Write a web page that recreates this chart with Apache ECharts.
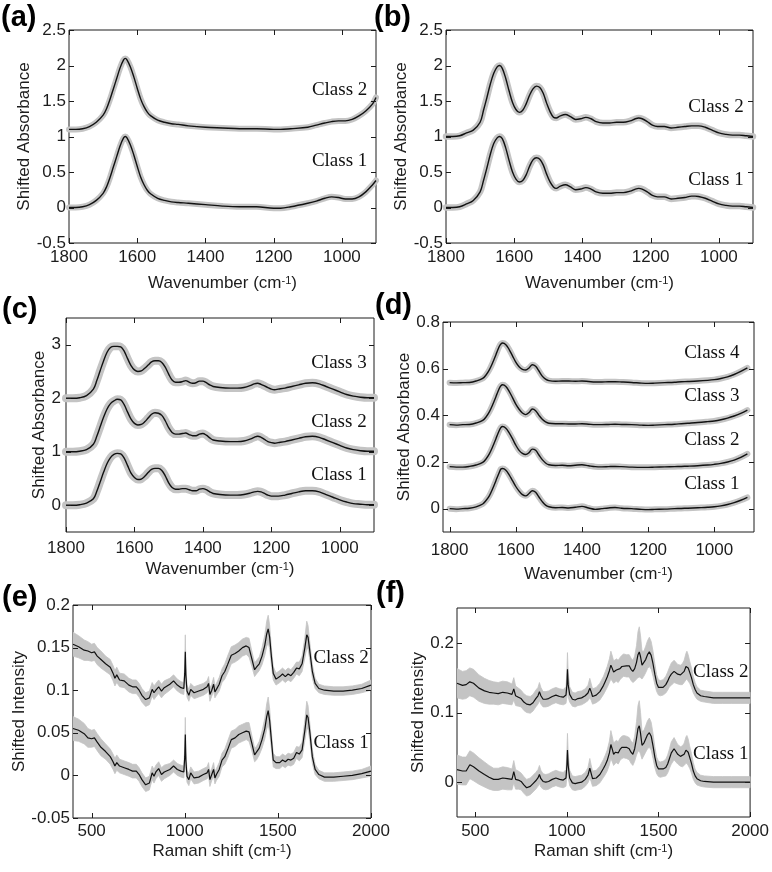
<!DOCTYPE html>
<html><head><meta charset="utf-8">
<script src="https://cdn.jsdelivr.net/npm/echarts@6/dist/echarts.min.js"></script>
<style>html,body{margin:0;padding:0;background:#fff}#c{width:772px;height:872px}</style>
</head><body><div id="c"></div>
<script>
// ---------------- DATA ----------------
const WN_TICKS = [1000, 1200, 1400, 1600, 1800];
const RAMAN_TICKS = [500, 1000, 1500, 2000];
const A_YTICKS = [-0.5, 0, 0.5, 1, 1.5, 2, 2.5];
const B_YTICKS = [-0.5, 0, 0.5, 1, 1.5, 2, 2.5];
const C_YTICKS = [0, 1, 2, 3];
const D_YTICKS = [0, 0.2, 0.4, 0.6, 0.8];
const E_YTICKS = [-0.05, 0, 0.05, 0.1, 0.15, 0.2];
const F_YTICKS = [0, 0.1, 0.2];

// (a)
const A_X = [1800,1780,1760,1740,1720,1700,1690,1680,1670,1660,
  1650,1640,1635,1630,1620,1610,1600,1590,1580,1570,
  1560,1540,1520,1500,1480,1450,1400,1350,1300,1250,
  1200,1180,1150,1100,1075,1050,1030,1010,990,970,
  950,930,910,900];
const A_CLASS1 = [0.00,0.00,0.01,0.04,0.10,0.20,0.29,0.42,0.57,0.72,
  0.87,0.98,1.00,0.98,0.88,0.74,0.58,0.43,0.32,0.24,
  0.19,0.13,0.10,0.08,0.07,0.06,0.04,0.02,0.01,0.01,
  -0.01,-0.01,0.01,0.06,0.09,0.13,0.15,0.14,0.12,0.12,
  0.15,0.22,0.32,0.38];
const A_CLASS2 = [1.10,1.10,1.11,1.14,1.20,1.30,1.39,1.52,1.67,1.82,
  1.97,2.08,2.10,2.08,1.98,1.84,1.68,1.53,1.42,1.34,
  1.29,1.23,1.20,1.18,1.17,1.15,1.13,1.12,1.11,1.11,
  1.10,1.10,1.11,1.13,1.16,1.19,1.21,1.22,1.22,1.24,
  1.29,1.36,1.46,1.55];

// (b)
const B_X = [1800,1780,1760,1740,1720,1700,1690,1680,1670,1660,
  1650,1643,1635,1625,1615,1605,1595,1585,1575,1565,
  1555,1545,1535,1525,1515,1505,1495,1485,1477,1465,
  1450,1435,1420,1405,1390,1375,1360,1340,1320,1300,
  1280,1260,1245,1235,1225,1210,1195,1180,1160,1140,
  1120,1100,1080,1070,1060,1040,1020,1000,980,960,
  940,920,900];
const B_CLASS1 = [0.00,0.00,0.01,0.05,0.10,0.22,0.38,0.56,0.75,0.90,
  0.98,1.00,0.97,0.84,0.66,0.50,0.40,0.36,0.38,0.46,
  0.58,0.67,0.70,0.68,0.60,0.47,0.36,0.29,0.27,0.30,
  0.32,0.29,0.25,0.26,0.28,0.26,0.22,0.20,0.20,0.21,
  0.21,0.23,0.26,0.27,0.26,0.22,0.17,0.15,0.15,0.12,
  0.13,0.14,0.16,0.16,0.155,0.13,0.09,0.05,0.03,0.02,
  0.02,0.01,0.00];
const B_CLASS2 = [1.00,1.00,1.01,1.05,1.09,1.20,1.37,1.55,1.74,1.89,
  1.98,2.00,1.96,1.82,1.64,1.48,1.38,1.34,1.37,1.46,
  1.58,1.67,1.71,1.69,1.61,1.47,1.35,1.27,1.26,1.29,
  1.31,1.28,1.24,1.25,1.27,1.25,1.21,1.19,1.19,1.20,
  1.20,1.22,1.25,1.26,1.25,1.21,1.16,1.14,1.14,1.12,
  1.13,1.14,1.15,1.15,1.15,1.13,1.09,1.05,1.03,1.02,
  1.02,1.01,1.00];

// (c)
const C_X = [1800,1780,1760,1740,1720,1710,1700,1690,1680,1670,
  1660,1650,1640,1630,1620,1610,1600,1590,1580,1570,
  1560,1550,1540,1530,1520,1510,1500,1490,1480,1470,
  1460,1450,1440,1430,1420,1410,1400,1390,1380,1370,
  1350,1320,1300,1280,1260,1250,1240,1230,1220,1210,
  1200,1190,1180,1160,1140,1120,1100,1080,1060,1040,
  1020,1000,980,960,940,920,900];
const C_CLASS3 = [2.00,2.00,2.01,2.05,2.17,2.33,2.52,2.70,2.86,2.95,
  2.97,2.97,2.96,2.88,2.74,2.61,2.53,2.50,2.51,2.56,
  2.62,2.68,2.70,2.70,2.67,2.58,2.45,2.34,2.30,2.30,
  2.31,2.33,2.30,2.28,2.29,2.32,2.32,2.29,2.25,2.22,
  2.20,2.19,2.19,2.20,2.24,2.27,2.28,2.26,2.23,2.20,
  2.17,2.16,2.17,2.19,2.22,2.25,2.28,2.29,2.27,2.22,
  2.17,2.12,2.07,2.04,2.02,2.01,2.01];
const C_CLASS2 = [1.00,1.00,1.01,1.04,1.14,1.29,1.47,1.65,1.80,1.90,
  1.95,1.98,1.97,1.88,1.74,1.61,1.53,1.50,1.51,1.56,
  1.63,1.70,1.73,1.72,1.68,1.58,1.45,1.36,1.33,1.33,
  1.34,1.35,1.32,1.30,1.30,1.33,1.34,1.31,1.26,1.22,
  1.20,1.19,1.19,1.20,1.24,1.27,1.29,1.27,1.23,1.19,
  1.17,1.16,1.17,1.19,1.22,1.25,1.28,1.29,1.27,1.22,
  1.17,1.12,1.07,1.04,1.02,1.01,1.01];
const C_CLASS1 = [0.00,0.00,0.01,0.04,0.12,0.26,0.44,0.62,0.78,0.89,
  0.95,0.97,0.96,0.88,0.74,0.60,0.52,0.48,0.49,0.54,
  0.61,0.67,0.69,0.69,0.65,0.55,0.42,0.33,0.30,0.30,
  0.31,0.31,0.29,0.27,0.27,0.30,0.31,0.29,0.25,0.22,
  0.20,0.19,0.19,0.20,0.23,0.25,0.26,0.25,0.22,0.19,
  0.17,0.17,0.17,0.19,0.22,0.25,0.27,0.27,0.25,0.20,
  0.15,0.10,0.06,0.03,0.02,0.01,0.01];

// (d)
const D_X = [1800,1780,1760,1740,1720,1700,1690,1680,1670,1660,
  1650,1645,1640,1630,1620,1610,1600,1590,1580,1570,
  1560,1550,1540,1530,1520,1510,1500,1480,1460,1440,
  1420,1400,1380,1360,1340,1320,1300,1280,1250,1220,
  1200,1180,1150,1120,1100,1080,1050,1020,1000,980,
  960,940,920,900];
const D_CLASS1 = [0.000,-0.002,0.000,0.002,0.008,0.020,0.035,0.055,0.085,0.120,
  0.155,0.170,0.172,0.165,0.145,0.120,0.095,0.075,0.060,0.055,
  0.065,0.077,0.070,0.050,0.030,0.015,0.008,0.004,0.005,0.003,
  0.006,0.010,0.003,-0.003,0.000,0.003,0.005,0.002,0.000,-0.003,
  -0.004,-0.003,-0.002,0.000,0.001,0.002,0.004,0.006,0.008,0.012,
  0.018,0.026,0.036,0.048];
const D_CLASS2 = [0.180,0.178,0.178,0.181,0.187,0.198,0.213,0.235,0.265,0.300,
  0.335,0.348,0.352,0.345,0.325,0.300,0.272,0.250,0.237,0.232,
  0.240,0.255,0.250,0.230,0.210,0.196,0.188,0.185,0.186,0.184,
  0.186,0.188,0.184,0.180,0.179,0.180,0.181,0.180,0.178,0.177,
  0.177,0.178,0.179,0.180,0.181,0.182,0.184,0.187,0.190,0.194,
  0.200,0.208,0.220,0.235];
const D_CLASS3 = [0.360,0.358,0.360,0.361,0.367,0.378,0.393,0.415,0.445,0.480,
  0.515,0.527,0.531,0.524,0.503,0.476,0.448,0.426,0.410,0.403,
  0.412,0.427,0.420,0.400,0.383,0.372,0.366,0.364,0.364,0.363,
  0.363,0.364,0.362,0.360,0.360,0.361,0.362,0.361,0.360,0.358,
  0.357,0.358,0.360,0.362,0.364,0.366,0.369,0.373,0.376,0.381,
  0.388,0.397,0.408,0.422];
const D_CLASS4 = [0.540,0.539,0.540,0.541,0.547,0.558,0.573,0.595,0.625,0.660,
  0.695,0.706,0.710,0.703,0.682,0.655,0.628,0.608,0.597,0.594,
  0.603,0.617,0.610,0.590,0.568,0.555,0.549,0.546,0.547,0.547,
  0.546,0.547,0.545,0.543,0.543,0.544,0.544,0.543,0.541,0.538,
  0.537,0.538,0.540,0.542,0.544,0.545,0.547,0.550,0.553,0.558,
  0.565,0.575,0.588,0.603];

// (e)
const E_X = [400,430,460,480,500,515,530,550,575,600,
  615,625,635,650,675,700,720,740,755,770,
  790,810,825,835,845,860,875,890,920,940,
  960,980,995,1000,1003,1006,1012,1022,1032,1050,
  1075,1100,1120,1128,1135,1145,1155,1162,1170,1185,
  1200,1215,1230,1250,1270,1290,1310,1330,1345,1360,
  1375,1385,1400,1415,1430,1440,1448,1456,1465,1475,
  1490,1510,1525,1540,1555,1570,1585,1600,1615,1630,
  1645,1655,1662,1672,1685,1700,1720,1750,1800,1850,
  1900,1950,2000];
const E_CLASS2 = [0.154,0.151,0.147,0.146,0.144,0.145,0.140,0.136,0.131,0.127,
  0.120,0.114,0.118,0.112,0.111,0.106,0.104,0.104,0.100,0.094,
  0.089,0.091,0.101,0.097,0.100,0.104,0.099,0.103,0.107,0.111,
  0.106,0.103,0.102,0.120,0.145,0.118,0.099,0.094,0.101,0.097,
  0.099,0.101,0.104,0.108,0.095,0.100,0.107,0.098,0.101,0.107,
  0.117,0.122,0.130,0.141,0.143,0.146,0.150,0.152,0.150,0.137,
  0.124,0.127,0.131,0.140,0.153,0.166,0.172,0.162,0.140,0.120,
  0.113,0.116,0.119,0.116,0.119,0.117,0.121,0.126,0.125,0.131,
  0.150,0.165,0.162,0.145,0.122,0.108,0.102,0.100,0.099,0.099,
  0.100,0.102,0.106];
const E_CLASS1 = [0.055,0.053,0.049,0.044,0.043,0.044,0.039,0.033,0.028,0.022,
  0.016,0.011,0.015,0.011,0.009,0.007,0.005,0.005,0.001,-0.005,
  -0.011,-0.009,0.003,-0.001,0.004,0.008,0.001,0.004,0.007,0.011,
  0.007,0.005,0.004,0.022,0.048,0.018,-0.001,-0.005,0.003,-0.003,
  -0.002,0.001,0.003,0.007,-0.005,0.001,0.007,-0.003,0.001,0.007,
  0.018,0.022,0.030,0.042,0.044,0.048,0.050,0.052,0.051,0.038,
  0.024,0.026,0.032,0.042,0.055,0.069,0.076,0.064,0.042,0.018,
  0.015,0.015,0.018,0.016,0.019,0.018,0.020,0.027,0.025,0.030,
  0.053,0.071,0.068,0.050,0.022,0.007,0.001,-0.002,-0.002,-0.001,
  0.000,0.002,0.005];
const E_SPREAD = [0.014,0.013,0.012,0.011,0.010,0.010,0.010,0.010,0.009,0.009,
  0.009,0.009,0.009,0.008,0.008,0.008,0.008,0.008,0.008,0.008,
  0.008,0.008,0.008,0.008,0.008,0.008,0.008,0.008,0.007,0.007,
  0.007,0.007,0.007,0.012,0.020,0.012,0.007,0.007,0.007,0.007,
  0.007,0.007,0.007,0.008,0.008,0.007,0.008,0.007,0.007,0.008,
  0.008,0.009,0.010,0.010,0.010,0.010,0.010,0.010,0.011,0.009,
  0.008,0.008,0.008,0.010,0.012,0.015,0.016,0.014,0.010,0.008,
  0.007,0.007,0.007,0.007,0.007,0.007,0.007,0.007,0.008,0.009,
  0.012,0.016,0.014,0.010,0.008,0.006,0.005,0.005,0.005,0.005,
  0.005,0.005,0.006];

// (f)
const F_X = [400,430,450,470,490,520,550,575,600,625,
  650,675,700,710,720,735,750,765,780,800,
  815,830,842,850,858,870,885,900,920,940,
  960,980,995,1000,1003,1007,1015,1030,1045,1060,
  1080,1100,1115,1125,1132,1140,1160,1180,1200,1210,
  1220,1232,1240,1248,1255,1265,1270,1280,1290,1300,
  1310,1325,1340,1350,1360,1370,1380,1388,1395,1402,
  1410,1420,1430,1440,1450,1460,1470,1480,1490,1500,
  1510,1525,1540,1550,1560,1570,1585,1595,1605,1620,
  1630,1640,1650,1655,1662,1670,1680,1690,1700,1710,
  1730,1750,1800,1850,1900,1950,2000];
const F_CLASS2 = [0.142,0.139,0.140,0.144,0.142,0.135,0.131,0.129,0.128,0.127,
  0.129,0.128,0.126,0.134,0.124,0.122,0.120,0.115,0.112,0.111,
  0.114,0.120,0.124,0.130,0.124,0.119,0.119,0.120,0.123,0.125,
  0.123,0.122,0.125,0.140,0.162,0.140,0.126,0.119,0.118,0.120,
  0.121,0.124,0.128,0.135,0.130,0.123,0.125,0.130,0.139,0.145,
  0.151,0.160,0.168,0.163,0.158,0.160,0.161,0.159,0.163,0.166,
  0.168,0.167,0.167,0.162,0.159,0.163,0.172,0.183,0.187,0.180,
  0.168,0.170,0.176,0.183,0.187,0.182,0.170,0.155,0.142,0.136,
  0.135,0.136,0.140,0.145,0.151,0.155,0.159,0.157,0.155,0.154,
  0.155,0.159,0.166,0.168,0.164,0.158,0.150,0.140,0.133,0.128,
  0.124,0.123,0.121,0.121,0.121,0.121,0.121];
const F_CLASS1 = [0.018,0.016,0.016,0.025,0.022,0.016,0.011,0.007,0.004,0.004,
  0.006,0.005,0.004,0.015,0.004,0.003,0.001,-0.004,-0.008,-0.006,
  -0.002,0.002,0.006,0.011,0.005,0.001,0.000,0.001,0.004,0.006,
  0.004,0.003,0.006,0.025,0.046,0.024,0.006,-0.001,-0.002,-0.001,
  0.000,0.004,0.010,0.020,0.013,0.005,0.006,0.011,0.020,0.025,
  0.031,0.042,0.054,0.047,0.040,0.043,0.044,0.042,0.047,0.050,
  0.051,0.050,0.048,0.043,0.040,0.048,0.063,0.077,0.081,0.070,
  0.053,0.056,0.062,0.068,0.071,0.066,0.052,0.036,0.024,0.019,
  0.018,0.019,0.021,0.026,0.034,0.042,0.048,0.044,0.040,0.037,
  0.037,0.040,0.046,0.047,0.043,0.036,0.027,0.016,0.009,0.005,
  0.002,0.001,0.000,0.000,0.000,0.000,0.000];
const F_SPREAD = [0.021,0.020,0.020,0.020,0.020,0.019,0.018,0.017,0.016,0.016,
  0.016,0.016,0.015,0.016,0.014,0.013,0.012,0.012,0.012,0.012,
  0.012,0.012,0.012,0.013,0.012,0.011,0.011,0.011,0.011,0.011,
  0.011,0.011,0.012,0.018,0.024,0.018,0.011,0.010,0.010,0.010,
  0.010,0.010,0.011,0.014,0.012,0.011,0.011,0.012,0.013,0.014,
  0.015,0.017,0.020,0.018,0.016,0.016,0.016,0.016,0.016,0.016,
  0.016,0.016,0.016,0.016,0.016,0.018,0.024,0.033,0.036,0.030,
  0.020,0.018,0.019,0.020,0.021,0.020,0.018,0.015,0.012,0.011,
  0.011,0.011,0.012,0.013,0.014,0.016,0.016,0.015,0.014,0.014,
  0.015,0.016,0.019,0.020,0.019,0.016,0.014,0.012,0.010,0.009,
  0.008,0.008,0.008,0.008,0.008,0.008,0.008];

// ---------------- LAYOUT / STYLE ----------------
const FONT = '"Liberation Sans", Arial, Helvetica, sans-serif';
const SERIF = '"Liberation Serif", "Times New Roman", serif';
const INK = '#1c1c1c';
const GRAY = '#c4c4c4';
const TICK_LEN = 5;

const PANELS = [
  {tag:'(a)', tagXY:[1,18], grid:{left:69, top:30, width:307, height:213},
   x:A_X, classes:[{name:'Class 2', y:A_CLASS2, at:[924,1.66]},{name:'Class 1', y:A_CLASS1, at:[924,0.65]}],
   xMin:900, xMax:1800, inverse:true, xTicks:WN_TICKS, yMin:-0.5, yMax:2.5, yTicks:A_YTICKS,
   xName:'Wavenumber', yName:'Shifted Absorbance', xMargin:6, xNameGap:32, yMargin:3, yNameGap:35,
   grayWidth:6, labelPos:'left', band:false},
  {tag:'(b)', tagXY:[374,18], grid:{left:446, top:30, width:307, height:213},
   x:B_X, classes:[{name:'Class 2', y:B_CLASS2, at:[926,1.42]},{name:'Class 1', y:B_CLASS1, at:[926,0.39]}],
   xMin:900, xMax:1800, inverse:true, xTicks:WN_TICKS, yMin:-0.5, yMax:2.5, yTicks:B_YTICKS,
   xName:'Wavenumber', yName:'Shifted Absorbance', xMargin:6, xNameGap:32, yMargin:3, yNameGap:31,
   grayWidth:6.5, labelPos:'left', band:false},
  {tag:'(c)', tagXY:[2,310], grid:{left:66, top:318, width:308, height:214},
   x:C_X, classes:[{name:'Class 3', y:C_CLASS3, at:[920,2.66]},{name:'Class 2', y:C_CLASS2, at:[920,1.55]},{name:'Class 1', y:C_CLASS1, at:[920,0.56]}],
   xMin:900, xMax:1800, inverse:true, xTicks:WN_TICKS, yMin:-0.5, yMax:3.5, yTicks:C_YTICKS,
   xName:'Wavenumber', yName:'Shifted Absorbance', xMargin:8, xNameGap:29, yMargin:5, yNameGap:16,
   grayWidth:8, labelPos:'left', band:false},
  {tag:'(d)', tagXY:[375,306], grid:{left:443, top:322, width:311, height:210},
   x:D_X, classes:[{name:'Class 4', y:D_CLASS4, at:[922,0.669]},{name:'Class 3', y:D_CLASS3, at:[922,0.483]},{name:'Class 2', y:D_CLASS2, at:[922,0.294]},{name:'Class 1', y:D_CLASS1, at:[922,0.105]}],
   xMin:880, xMax:1820, inverse:true, xTicks:WN_TICKS, yMin:-0.1, yMax:0.8, yTicks:D_YTICKS,
   xName:'Wavenumber', yName:'Shifted Absorbance', xMargin:10, xNameGap:34, yMargin:3, yNameGap:30,
   grayWidth:6, labelPos:'left', band:false},
  {tag:'(e)', tagXY:[2,598], grid:{left:73, top:605, width:298, height:213},
   x:E_X, spread:E_SPREAD, classes:[{name:'Class 2', y:E_CLASS2, at:[1688,0.138]},{name:'Class 1', y:E_CLASS1, at:[1688,0.038]}],
   xMin:400, xMax:2000, inverse:false, xTicks:RAMAN_TICKS, yMin:-0.05, yMax:0.2, yTicks:E_YTICKS,
   xName:'Raman shift', yName:'Shifted Intensity', xMargin:5, xNameGap:25, yMargin:3, yNameGap:44,
   labelPos:'right', band:true},
  {tag:'(f)', tagXY:[376,594], grid:{left:457, top:608, width:294, height:209},
   x:F_X, spread:F_SPREAD, classes:[{name:'Class 2', y:F_CLASS2, at:[1686,0.158]},{name:'Class 1', y:F_CLASS1, at:[1686,0.040]}],
   xMin:400, xMax:2000, inverse:false, xTicks:RAMAN_TICKS, yMin:-0.05, yMax:0.25, yTicks:F_YTICKS,
   xName:'Raman shift', yName:'Shifted Intensity', xMargin:6, xNameGap:26, yMargin:3, yNameGap:29,
   labelPos:'right', band:true}
];

// ---------------- BUILD ----------------
const zip = (xs, ys) => xs.map((x, i) => [x, ys[i]]);
const grids = [], xAxes = [], yAxes = [], series = [], tags = [];
const fmt = v => String(+(+v).toFixed(4));

function bandSeries(xi, yi, xs, lo, hi) {
  return {type:'custom', xAxisIndex:xi, yAxisIndex:yi, silent:true, animation:false, clip:true, z:1,
    data: xs.map((x, i) => [x, lo[i], hi[i]]),
    encode:{x:0, y:[1, 2]},
    renderItem: (params, api) => {
      if (params.dataIndex !== 0) return null;
      const pts = [];
      for (let i = 0; i < xs.length; i++) pts.push(api.coord([xs[i], hi[i]]));
      for (let i = xs.length - 1; i >= 0; i--) pts.push(api.coord([xs[i], lo[i]]));
      return {type:'polygon', shape:{points:pts}, style:{fill:GRAY, stroke:GRAY, lineWidth:0.8}};
    }};
}

PANELS.forEach((p, gi) => {
  grids.push(Object.assign({show:true, borderColor:INK, borderWidth:1, backgroundColor:'transparent'}, p.grid));
  const xi = xAxes.length, yi = yAxes.length;
  xAxes.push({type:'value', gridIndex:gi, min:p.xMin, max:p.xMax, inverse:p.inverse, position:'bottom',
    axisLine:{show:false, onZero:false}, splitLine:{show:false}, axisTick:{show:false},
    axisLabel:{customValues:p.xTicks, margin:p.xMargin, fontSize:17, fontFamily:FONT, color:INK, formatter:fmt},
    name:'{n|' + p.xName + ' (cm}{s|-1}{n|)}', nameLocation:'middle', nameGap:p.xNameGap,
    nameTextStyle:{rich:{
      n:{fontSize:17, fontFamily:FONT, color:INK, lineHeight:17, verticalAlign:'bottom'},
      s:{fontSize:11, fontFamily:FONT, color:INK, lineHeight:11, verticalAlign:'top', padding:[0,0,12,0]}}}
  });
  yAxes.push({type:'value', gridIndex:gi, min:p.yMin, max:p.yMax, position:'left',
    axisLine:{show:false, onZero:false}, splitLine:{show:false}, axisTick:{show:false},
    axisLabel:{customValues:p.yTicks, margin:p.yMargin, fontSize:17, fontFamily:FONT, color:INK, formatter:fmt},
    name:p.yName, nameLocation:'middle', nameGap:p.yNameGap,
    nameTextStyle:{fontSize:17, fontFamily:FONT, color:INK}});

  p.classes.forEach((c) => {
    const base = {type:'line', xAxisIndex:xi, yAxisIndex:yi, symbol:'none', showSymbol:false, animation:false, silent:true};
    if (p.band) {
      const lower = c.y.map((v, i) => v - p.spread[i]);
      const upper = c.y.map((v, i) => v + p.spread[i]);
      series.push(bandSeries(xi, yi, p.x, lower, upper));
    } else {
      series.push(Object.assign({}, base, {data:zip(p.x, c.y), smooth:0.35,
        lineStyle:{color:GRAY, width:p.grayWidth, cap:'round', join:'round'}, z:1}));
    }
    series.push(Object.assign({}, base, {data:zip(p.x, c.y), smooth:p.band ? false : 0.35,
      lineStyle:{color:'#111', width:p.band ? 1.2 : 1.4}, z:3,
      markPoint:{symbol:'circle', symbolSize:1, silent:true, animation:false,
        itemStyle:{color:'rgba(0,0,0,0)'},
        label:{show:true, position:p.labelPos, distance:0, formatter:c.name,
          fontFamily:SERIF, fontSize:19, color:'#111'},
        data:[{coord:c.at}]}}));
  });

  tags.push({type:'text', x:p.tagXY[0], y:p.tagXY[1], z:100,
    style:{text:p.tag, font:'bold 29px ' + FONT, fill:'#000', verticalAlign:'middle', align:'left'}});
});

const chart = echarts.init(document.getElementById('c'), null, {renderer:'canvas'});
chart.setOption({
  animation:false,
  backgroundColor:'#ffffff',
  grid:grids, xAxis:xAxes, yAxis:yAxes, series:series, graphic:tags
});

// Inward tick marks on all four sides, placed through the axes' own scales.
const tickMarks = [];
const st = {stroke:INK, lineWidth:1};
PANELS.forEach((p, gi) => {
  const toPx = (x, y) => chart.convertToPixel({gridIndex:gi}, [x, y]);
  const yBot = toPx(p.xMin, p.yMin)[1], yTop = toPx(p.xMin, p.yMax)[1];
  const xa = toPx(p.xMin, p.yMin)[0], xb = toPx(p.xMax, p.yMin)[0];
  const xL = Math.min(xa, xb), xR = Math.max(xa, xb);
  p.xTicks.forEach(v => {
    const px = Math.round(toPx(v, p.yMin)[0]) + 0.5;
    tickMarks.push({type:'line', z:90, silent:true, shape:{x1:px, y1:yBot, x2:px, y2:yBot - TICK_LEN}, style:st});
    tickMarks.push({type:'line', z:90, silent:true, shape:{x1:px, y1:yTop, x2:px, y2:yTop + TICK_LEN}, style:st});
  });
  p.yTicks.forEach(v => {
    const py = Math.round(toPx(p.xMin, v)[1]) + 0.5;
    tickMarks.push({type:'line', z:90, silent:true, shape:{x1:xL, y1:py, x2:xL + TICK_LEN, y2:py}, style:st});
    tickMarks.push({type:'line', z:90, silent:true, shape:{x1:xR, y1:py, x2:xR - TICK_LEN, y2:py}, style:st});
  });
});
chart.setOption({graphic: tags.concat(tickMarks)});
</script></body></html>
